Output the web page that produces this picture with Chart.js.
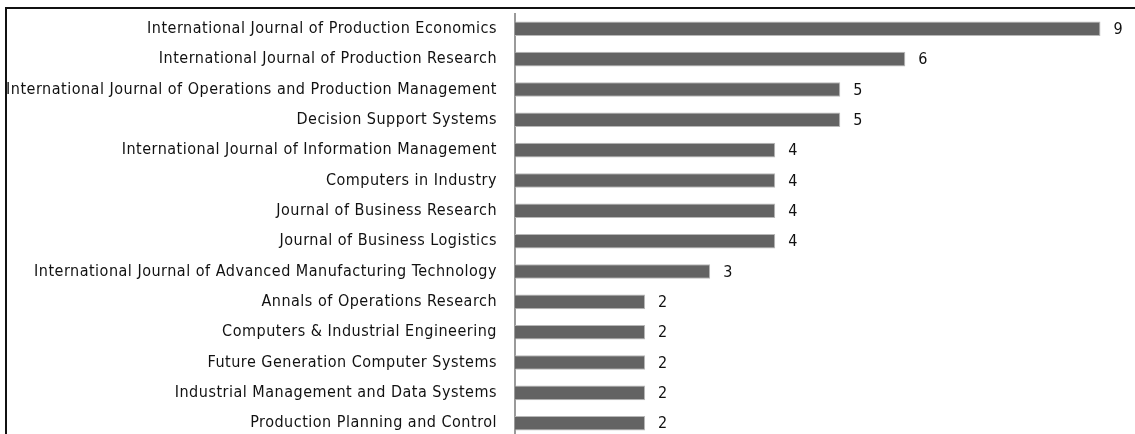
<!DOCTYPE html>
<html>
<head>
<meta charset="utf-8">
<script src="https://cdn.jsdelivr.net/npm/chart.js@4/dist/chart.umd.min.js"></script>
<style>
  html, body { margin: 0; padding: 0; background: #fff; overflow: hidden; }
  #wrap { position: relative; width: 1135px; height: 434px; overflow: hidden; }
  #frame { position: absolute; left: 5px; top: 7px; width: 1200px; height: 500px;
           border-top: 2px solid #111; border-left: 2px solid #111; }
  #box { position: absolute; left: 0; top: -14px; width: 1135px; height: 480px; }
</style>
</head>
<body>
<div id="wrap">
  <div id="frame"></div>
  <div id="box"><canvas id="myChart"></canvas></div>
</div>
<script>
const journals = [
    'International Journal of Production Economics',
    'International Journal of Production Research',
    'International Journal of Operations and Production Management',
    'Decision Support Systems',
    'International Journal of Information Management',
    'Computers in Industry',
    'Journal of Business Research',
    'Journal of Business Logistics',
    'International Journal of Advanced Manufacturing Technology',
    'Annals of Operations Research',
    'Computers & Industrial Engineering',
    'Future Generation Computer Systems',
    'Industrial Management and Data Systems',
    'Production Planning and Control'
];
const articleCounts = [9, 6, 5, 5, 4, 4, 4, 4, 3, 2, 2, 2, 2, 2];

const labelFont = "'Liberation Sans Narrow', 'DejaVu Sans Condensed', sans-serif";

// un poco de espacio entre letras para parecerse a la fuente original
const letterSpace = {
    id: 'letterSpace',
    beforeDraw(chart) {
        chart.ctx.letterSpacing = '0.5px';
    }
};

// escribe el numero al final de cada barra
const valueLabels = {
    id: 'valueLabels',
    afterDatasetsDraw(chart) {
        const ctx = chart.ctx;
        const meta = chart.getDatasetMeta(0);
        ctx.save();
        ctx.font = '16px ' + labelFont;
        ctx.fillStyle = '#111';
        ctx.textAlign = 'left';
        ctx.textBaseline = 'middle';
        meta.data.forEach((bar, i) => {
            ctx.fillText(String(articleCounts[i]), bar.x + 13, bar.y + 1);
        });
        ctx.restore();
    }
};

const data = {
    labels: journals,
    datasets: [{
        data: articleCounts,
        backgroundColor: '#636363',
        borderColor: '#b8b8b8',
        borderWidth: 1,
        barPercentage: 0.48,
        categoryPercentage: 1
    }]
};

const config = {
    type: 'bar',
    data: data,
    options: {
        indexAxis: 'y',
        responsive: true,
        maintainAspectRatio: false,
        animation: false,
        layout: { padding: { top: 13, bottom: 6, left: 0, right: 2 } },
        plugins: {
            legend: { display: false },
            tooltip: { enabled: false }
        },
        scales: {
            x: {
                display: false,
                min: 0,
                max: 9.5
            },
            y: {
                afterFit(axis) { axis.width = 515; },
                grid: { display: false, drawTicks: false },
                border: { display: true, color: '#9a9a9a', width: 2 },
                ticks: {
                    padding: 18,
                    color: '#111',
                    font: { family: labelFont, size: 16 }
                }
            }
        }
    },
    plugins: [letterSpace, valueLabels]
};

const myChart = new Chart(document.getElementById('myChart'), config);
</script>
</body>
</html>
